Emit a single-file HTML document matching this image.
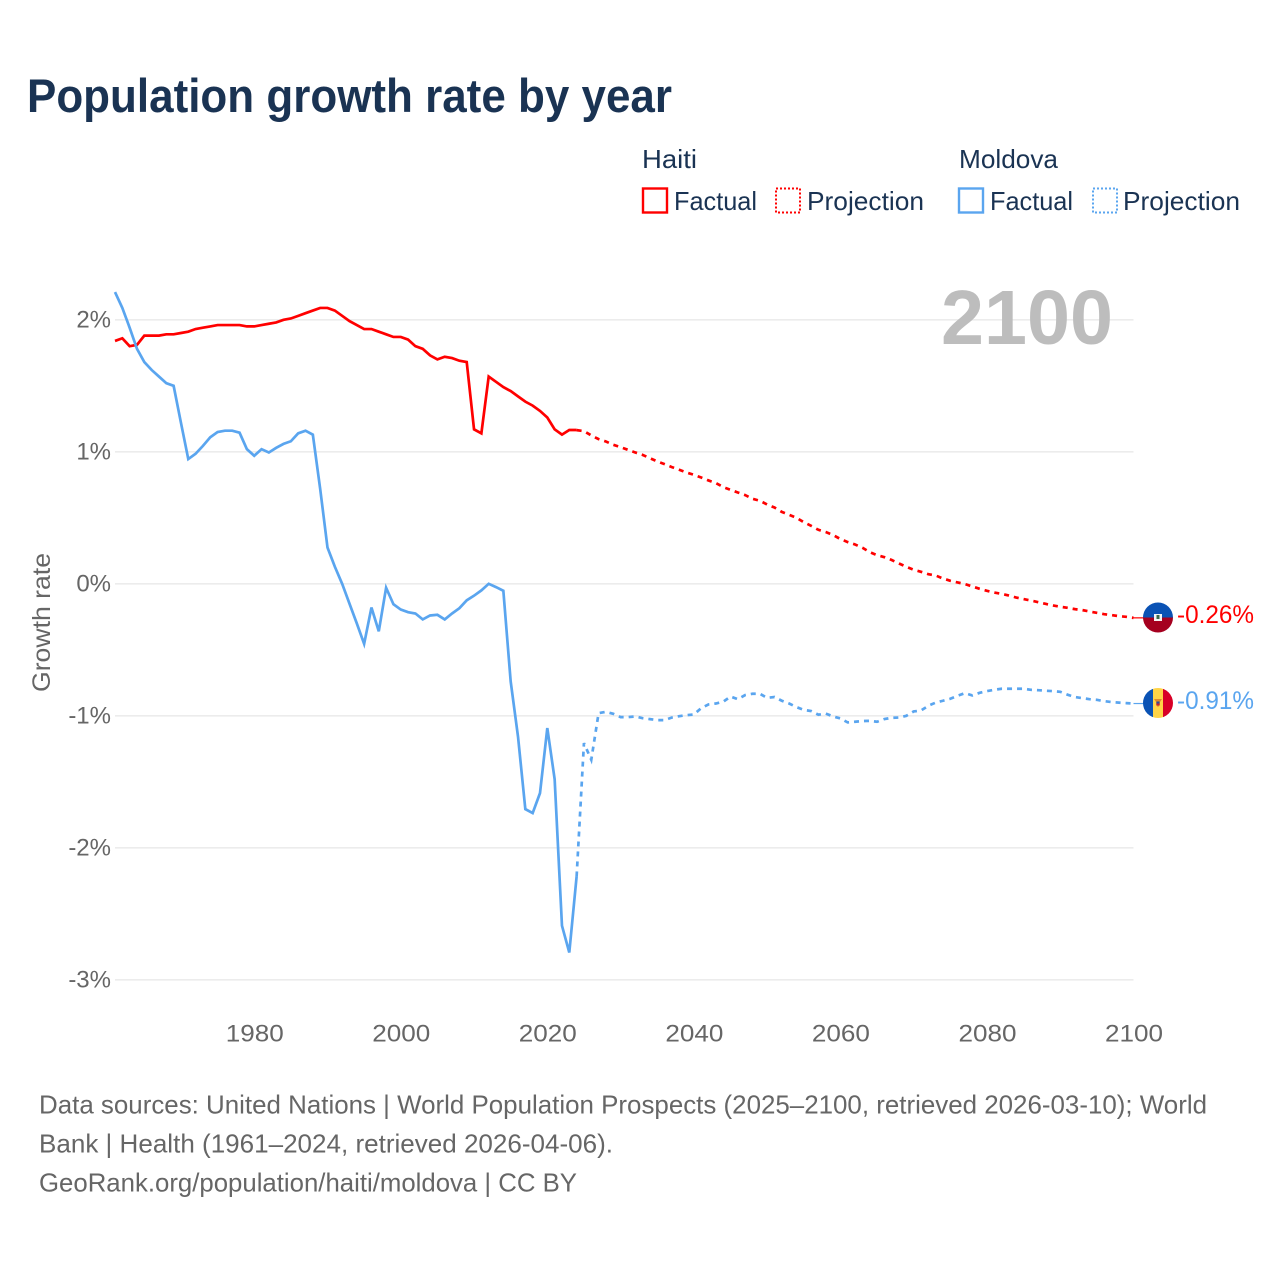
<!DOCTYPE html>
<html lang="en">
<head>
<meta charset="utf-8">
<title>Population growth rate by year</title>
<style>
html,body{margin:0;padding:0;background:#fff;width:1280px;height:1280px;overflow:hidden}
svg{display:block;font-family:"Liberation Sans",sans-serif}
</style>
</head>
<body>
<svg id="chart" xmlns="http://www.w3.org/2000/svg" width="1280" height="1280" viewBox="0 0 1280 1280">
  <defs>
    <clipPath id="clip-haiti"><circle cx="1158" cy="617.5" r="15"/></clipPath>
    <clipPath id="clip-moldova"><circle cx="1158" cy="703" r="15"/></clipPath>
  </defs>
  <rect x="0" y="0" width="1280" height="1280" fill="#fff"/>
  <text x="27" y="112" font-size="47" font-weight="700" fill="#1a3353" textLength="645" lengthAdjust="spacingAndGlyphs">Population growth rate by year</text>

  <g font-size="26" fill="#1a3353">
    <text x="642" y="168" textLength="55" lengthAdjust="spacingAndGlyphs">Haiti</text>
    <text x="959" y="168" textLength="99" lengthAdjust="spacingAndGlyphs">Moldova</text>
    <rect x="643" y="188.5" width="24" height="24" fill="none" stroke="#ff0000" stroke-width="2.4"/>
    <text x="674" y="210" textLength="83" lengthAdjust="spacingAndGlyphs">Factual</text>
    <rect x="776" y="188.5" width="24" height="24" fill="none" stroke="#ff0000" stroke-width="2" stroke-dasharray="2 2"/>
    <text x="807" y="210" textLength="117" lengthAdjust="spacingAndGlyphs">Projection</text>
    <rect x="959" y="188.5" width="24" height="24" fill="none" stroke="#5aa5ef" stroke-width="2.4"/>
    <text x="990" y="210" textLength="83" lengthAdjust="spacingAndGlyphs">Factual</text>
    <rect x="1093" y="188.5" width="24" height="24" fill="none" stroke="#5aa5ef" stroke-width="2" stroke-dasharray="2 2"/>
    <text x="1123" y="210" textLength="117" lengthAdjust="spacingAndGlyphs">Projection</text>
  </g>

  <g id="grid"></g>
  <text x="941" y="344" font-size="77" font-weight="700" fill="#bdbdbd" textLength="172" lengthAdjust="spacingAndGlyphs">2100</text>
  <g id="yticks" font-size="24" fill="#666"></g>
  <g id="xticks" font-size="24" fill="#666"></g>
  <text transform="translate(50,622.5) rotate(-90)" text-anchor="middle" font-size="25" fill="#666" textLength="139" lengthAdjust="spacingAndGlyphs">Growth rate</text>
  <g id="series"></g>

  <g clip-path="url(#clip-haiti)">
    <rect x="1143" y="602" width="30" height="15.5" fill="#0a52b4"/>
    <rect x="1143" y="617.5" width="30" height="15.5" fill="#a5001f"/>
    <rect x="1154" y="614" width="8" height="7" fill="#f4f4f4"/>
    <rect x="1156.5" y="615" width="3" height="4" fill="#3a6a4a"/>
  </g>
  <g clip-path="url(#clip-moldova)">
    <rect x="1143" y="688" width="10" height="30" fill="#0a52b4"/>
    <rect x="1153" y="688" width="10" height="30" fill="#ffd447"/>
    <rect x="1163" y="688" width="10" height="30" fill="#d80027"/>
    <path d="M1154 699h8l-2 3v3l-2 2-2-2v-3z" fill="#e08a2e"/>
    <rect x="1156.5" y="701.5" width="3" height="2" fill="#2a4a9a"/>
    <rect x="1156.5" y="703.5" width="3" height="2" fill="#c2203a"/>
  </g>
  <text x="1177" y="623" font-size="25" fill="#ff0000" textLength="77" lengthAdjust="spacingAndGlyphs">-0.26%</text>
  <text x="1177" y="709" font-size="25" fill="#5aa5ef" textLength="77" lengthAdjust="spacingAndGlyphs">-0.91%</text>

  <g font-size="26" fill="#666">
    <text x="39" y="1113.5" textLength="1168" lengthAdjust="spacingAndGlyphs">Data sources: United Nations | World Population Prospects (2025–2100, retrieved 2026-03-10); World</text>
    <text x="39" y="1152.5" textLength="574" lengthAdjust="spacingAndGlyphs">Bank | Health (1961–2024, retrieved 2026-04-06).</text>
    <text x="39" y="1191.5" textLength="538" lengthAdjust="spacingAndGlyphs">GeoRank.org/population/haiti/moldova | CC BY</text>
  </g>
</svg>
<script>
const firstFactualYear = 1961;
const firstProjectionYear = 2024;
const haitiFactual = [1.84,1.86,1.80,1.81,1.88,1.88,1.88,1.89,1.89,1.90,1.91,1.93,1.94,1.95,1.96,1.96,1.96,1.96,1.95,1.95,1.96,1.97,1.98,2.00,2.01,2.03,2.05,2.07,2.09,2.09,2.07,2.03,1.99,1.96,1.93,1.93,1.91,1.89,1.87,1.87,1.85,1.80,1.78,1.73,1.70,1.72,1.71,1.69,1.68,1.17,1.14,1.57,1.53,1.49,1.46,1.42,1.38,1.35,1.31,1.26,1.17,1.13,1.165,1.165];
const haitiProjection = [1.164,1.157,1.124,1.096,1.078,1.053,1.035,1.015,0.995,0.977,0.952,0.927,0.907,0.884,0.864,0.843,0.826,0.805,0.783,0.763,0.733,0.712,0.692,0.672,0.644,0.629,0.601,0.578,0.545,0.523,0.50,0.467,0.439,0.409,0.392,0.369,0.339,0.316,0.298,0.273,0.24,0.217,0.202,0.18,0.154,0.129,0.106,0.091,0.073,0.063,0.04,0.023,0.01,-0.002,-0.02,-0.038,-0.053,-0.066,-0.076,-0.089,-0.104,-0.116,-0.127,-0.139,-0.152,-0.164,-0.174,-0.182,-0.192,-0.199,-0.21,-0.22,-0.23,-0.237,-0.245,-0.25,-0.258];
const moldovaFactual = [2.21,2.09,1.94,1.78,1.68,1.62,1.57,1.52,1.50,1.22,0.945,0.985,1.045,1.11,1.15,1.16,1.16,1.145,1.02,0.97,1.02,0.995,1.03,1.06,1.08,1.14,1.16,1.13,0.72,0.275,0.13,0.0,-0.15,-0.30,-0.455,-0.18,-0.36,-0.03,-0.155,-0.195,-0.215,-0.225,-0.27,-0.24,-0.235,-0.27,-0.225,-0.185,-0.125,-0.09,-0.05,0.0,-0.025,-0.053,-0.74,-1.157,-1.707,-1.737,-1.586,-1.093,-1.48,-2.59,-2.793,-2.217];
const moldovaProjection = [-2.217,-1.207,-1.333,-0.98,-0.97,-0.985,-1.01,-1.01,-1.005,-1.018,-1.025,-1.033,-1.033,-1.013,-1.003,-0.995,-0.99,-0.942,-0.914,-0.907,-0.894,-0.854,-0.874,-0.843,-0.833,-0.833,-0.864,-0.858,-0.886,-0.907,-0.934,-0.955,-0.964,-0.992,-0.983,-1.005,-1.02,-1.05,-1.045,-1.04,-1.038,-1.045,-1.025,-1.015,-1.013,-1.0,-0.967,-0.96,-0.924,-0.90,-0.886,-0.871,-0.848,-0.828,-0.846,-0.826,-0.813,-0.803,-0.795,-0.795,-0.795,-0.795,-0.803,-0.806,-0.81,-0.813,-0.818,-0.84,-0.858,-0.866,-0.874,-0.879,-0.889,-0.896,-0.90,-0.904,-0.907];
const yTickValues = [2,1,0,-1,-2,-3];
const yTickLabels = ["2%","1%","0%","-1%","-2%","-3%"];
const xTickValues = [1980,2000,2020,2040,2060,2080,2100];
const xTickLabels = ["1980","2000","2020","2040","2060","2080","2100"];

const NS = "http://www.w3.org/2000/svg";
const xScale = function (year) { return 115 + (year - 1961) * (1133.5 - 115) / (2100 - 1961); };
const yScale = function (v) { return 583.8 - v * 132; };

function makeEl(tag, parent) {
  const el = document.createElementNS(NS, tag);
  parent.appendChild(el);
  return el;
}
function pathFor(values, startYear) {
  return values.map(function (v, i) {
    return (i ? "L" : "M") + xScale(startYear + i).toFixed(2) + " " + yScale(v).toFixed(2);
  }).join("");
}

const grid = document.getElementById("grid");
yTickValues.forEach(function (v) {
  const line = makeEl("line", grid);
  
  
  line.setAttribute("x1", xScale(1961));
  line.setAttribute("x2", xScale(2100));
  line.setAttribute("y1", yScale(v));
  line.setAttribute("y2", yScale(v));
  line.setAttribute("stroke", "#ececec");
  line.setAttribute("stroke-width", "1.6");
});

const yTicks = document.getElementById("yticks");
yTickValues.forEach(function (v, i) {
  const t = makeEl("text", yTicks);
  
  
  t.setAttribute("x", 111);
  t.setAttribute("y", yScale(v) + 7.5);
  t.setAttribute("text-anchor", "end");
  t.textContent = yTickLabels[i];
});

const xTicks = document.getElementById("xticks");
xTickValues.forEach(function (year, i) {
  const t = makeEl("text", xTicks);
  
  
  t.setAttribute("x", xScale(year) + 0.5);
  t.setAttribute("y", 1041.5);
  t.setAttribute("text-anchor", "middle");
  t.setAttribute("textLength", "58");
  t.setAttribute("lengthAdjust", "spacingAndGlyphs");
  t.textContent = xTickLabels[i];
});

const seriesGroup = document.getElementById("series");

const haitiFactualLine = makeEl("path", seriesGroup);


haitiFactualLine.setAttribute("d", pathFor(haitiFactual, firstFactualYear));
haitiFactualLine.setAttribute("fill", "none");
haitiFactualLine.setAttribute("stroke", "#ff0000");
haitiFactualLine.setAttribute("stroke-width", "2.7");

const moldovaFactualLine = makeEl("path", seriesGroup);


moldovaFactualLine.setAttribute("d", pathFor(moldovaFactual, firstFactualYear));
moldovaFactualLine.setAttribute("fill", "none");
moldovaFactualLine.setAttribute("stroke", "#5aa5ef");
moldovaFactualLine.setAttribute("stroke-width", "2.7");

const haitiProjectionLine = makeEl("path", seriesGroup);


haitiProjectionLine.setAttribute("d", pathFor(haitiProjection, firstProjectionYear));
haitiProjectionLine.setAttribute("fill", "none");
haitiProjectionLine.setAttribute("stroke", "#ff0000");
haitiProjectionLine.setAttribute("stroke-width", "2.7");
haitiProjectionLine.setAttribute("stroke-dasharray", "5 5");

const moldovaProjectionLine = makeEl("path", seriesGroup);


moldovaProjectionLine.setAttribute("d", pathFor(moldovaProjection, firstProjectionYear));
moldovaProjectionLine.setAttribute("fill", "none");
moldovaProjectionLine.setAttribute("stroke", "#5aa5ef");
moldovaProjectionLine.setAttribute("stroke-width", "2.7");
moldovaProjectionLine.setAttribute("stroke-dasharray", "5 5");

const haitiConnector = makeEl("line", seriesGroup);


haitiConnector.setAttribute("x1", xScale(2100));
haitiConnector.setAttribute("x2", 1144);
haitiConnector.setAttribute("y1", yScale(haitiProjection[haitiProjection.length - 1]));
haitiConnector.setAttribute("y2", yScale(haitiProjection[haitiProjection.length - 1]));
haitiConnector.setAttribute("stroke", "#ff0000");
haitiConnector.setAttribute("stroke-width", "1.2");

const moldovaConnector = makeEl("line", seriesGroup);


moldovaConnector.setAttribute("x1", xScale(2100));
moldovaConnector.setAttribute("x2", 1144);
moldovaConnector.setAttribute("y1", yScale(moldovaProjection[moldovaProjection.length - 1]));
moldovaConnector.setAttribute("y2", yScale(moldovaProjection[moldovaProjection.length - 1]));
moldovaConnector.setAttribute("stroke", "#5aa5ef");
moldovaConnector.setAttribute("stroke-width", "1.2");
</script>
</body>
</html>
